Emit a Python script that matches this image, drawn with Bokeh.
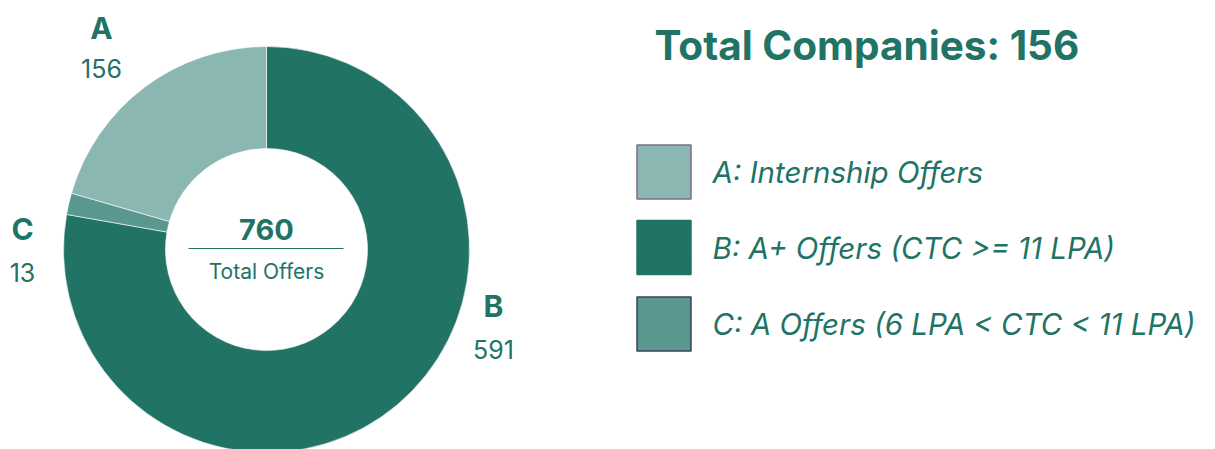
import math
from bokeh.plotting import figure
from bokeh.models import ColumnDataSource, Range1d
from bokeh.core.properties import value
from bokeh.embed import file_html
from bokeh.resources import INLINE

# ---- data ----
categories = ["A", "B", "C"]
offers = [156, 591, 13]
legend_labels = ["A: Internship Offers", "B: A+ Offers (CTC >= 11 LPA)", "C: A Offers (6 LPA < CTC < 11 LPA)"]
colors = ["#8bb7b3", "#217366", "#5a978e"]
legend_borders = ["#7d6b8c", "#217366", "#3d3f5e"]
total_companies = 156
clock_order = ["B", "C", "A"]

W, H = 1215, 449
TXT = "#217366"
FONT = "Inter"

p = figure(width=W, height=H, output_backend="svg", toolbar_location=None,
           x_range=Range1d(0, W), y_range=Range1d(0, H), min_border=0)
p.axis.visible = False
p.grid.visible = False
p.outline_line_color = None
p.background_fill_color = "white"
p.border_fill_color = "white"

def Y(py):
    return H - py

# ---- donut ----
cx, cy = 266, Y(249)
total = sum(offers)
starts, ends, cols = [], [], []
ang = math.pi / 2
for c in clock_order:
    i = categories.index(c)
    span = offers[i] / total * 2 * math.pi
    starts.append(ang)
    ends.append(ang - span)
    cols.append(colors[i])
    ang -= span
src = ColumnDataSource(dict(x=[cx] * 3, y=[cy] * 3, s=starts, e=ends, c=cols))
p.annular_wedge(x="x", y="y", inner_radius=101, outer_radius=203, start_angle="s", end_angle="e",
                direction="clock", fill_color="c", line_color="white", line_width=0.6, source=src)

# slice labels
lab_pos = {"A": (101, 27, 68), "B": (493, 305, 349), "C": (22, 228, 272)}
for c in categories:
    i = categories.index(c)
    lx, ly1, ly2 = lab_pos[c]
    p.text(x=[lx], y=[Y(ly1)], text=[c], text_align="center", text_baseline="middle",
           text_font=value(FONT), text_font_size="30px", text_font_style="bold", text_color=TXT)
    p.text(x=[lx], y=[Y(ly2)], text=[str(offers[i])], text_align="center", text_baseline="middle",
           text_font=value(FONT), text_font_size="25px", text_color=TXT)

# center text
p.text(x=[cx], y=[Y(229)], text=[str(total)], text_align="center", text_baseline="middle",
       text_font=value(FONT), text_font_size="29px", text_font_style="bold", text_color=TXT)
p.segment(x0=[188], y0=[Y(248)], x1=[343], y1=[Y(248)], line_color=TXT, line_width=1.2)
p.text(x=[cx], y=[Y(271)], text=["Total Offers"], text_align="center", text_baseline="middle",
       text_font=value(FONT), text_font_size="21px", text_color=TXT)

# title
p.text(x=[654], y=[Y(45)], text=[f"Total Companies: {total_companies}"], text_align="left",
       text_baseline="middle", text_font=value(FONT), text_font_size="40.5px", text_font_style="bold",
       text_color=TXT)

# legend
ly = [171.5, 247, 323.5]
lsrc = ColumnDataSource(dict(x=[663.5] * 3, y=[Y(v) for v in ly], c=colors, b=legend_borders,
                             t=legend_labels, tx=[712] * 3))
p.rect(x="x", y="y", width=54, height=54, fill_color="c", line_color="b", line_width=1.5, source=lsrc)
p.text(x="tx", y="y", text="t", text_align="left", text_baseline="middle", text_font=value(FONT),
       text_font_size="29.5px", text_font_style="italic", text_color=TXT, source=lsrc)

open("out.html", "w").write(file_html(p, INLINE))
